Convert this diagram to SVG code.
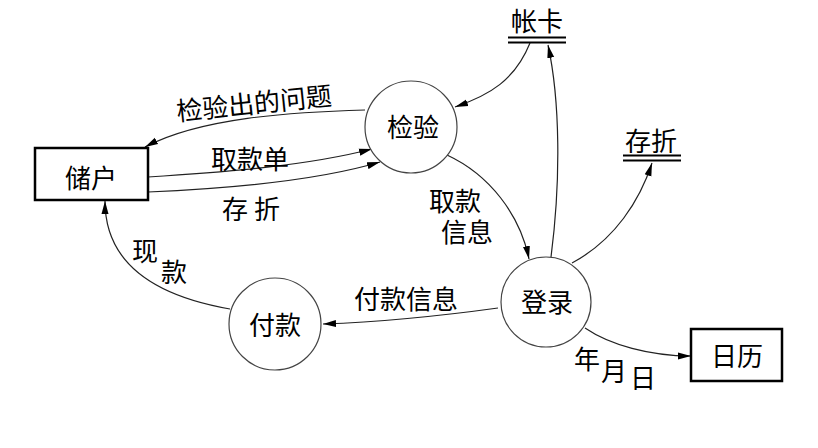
<svg xmlns="http://www.w3.org/2000/svg" width="818" height="448" viewBox="0 0 818 448">
<style>
text{font-family:"Noto Sans CJK SC","Noto Sans",sans-serif;font-size:26px;fill:#000;text-anchor:middle}
.proc{fill:#fff;stroke:#444;stroke-width:1.2}
.ent{fill:#fff;stroke:#000;stroke-width:2.5}
.store{stroke:#000;stroke-width:2}
.edge{fill:none;stroke:#222;stroke-width:1.2;marker-end:url(#ah)}
</style>
<defs>
<marker id="ah" markerUnits="userSpaceOnUse" markerWidth="14" markerHeight="8" refX="13" refY="4" orient="auto">
<path d="M0,0.5 L13,4 L0,7.5 z" fill="#000"/>
</marker>
</defs>
<rect width="818" height="448" fill="#fff"/>
<g id="connectors">
<path class="edge" d="M365,110 C290,112 200,118 145,147"/>
<path class="edge" d="M148,177 C230,172 310,165 372,149"/>
<path class="edge" d="M148,192 C240,188 320,180 380,162"/>
<path class="edge" d="M530,43 C515,80 490,95 455,107"/>
<path class="edge" d="M551,257 C561,180 560,100 548,45"/>
<path class="edge" d="M447,155 C490,175 520,215 529,259"/>
<path class="edge" d="M572,263 C615,240 640,200 652,163"/>
<path class="edge" d="M498,308 C440,316 380,322 323,324"/>
<path class="edge" d="M230,309 C150,295 105,260 105,201"/>
<path class="edge" d="M585,328 C610,345 650,356 691,356"/>
</g>
<g id="labels">
<text x="254" y="113" transform="rotate(-6 254 103)">检验出的问题</text>
<text x="250" y="169">取款单</text>
<text x="251" y="219">存 折</text>
<text><tspan x="455" y="211">取款</tspan><tspan x="467" y="242">信息</tspan></text>
<text x="406" y="309">付款信息</text>
<text x="145" y="261">现</text>
<text x="174" y="282">款</text>
<text x="587" y="369">年</text>
<text x="614" y="381">月</text>
<text x="643" y="388">日</text>
</g>
<g id="chuhu">
<rect class="ent" x="35" y="148" width="113" height="52"/>
<text x="91" y="188">储户</text>
</g>
<g id="jianyan">
<circle class="proc" cx="411" cy="127" r="46"/>
<text x="413" y="137">检验</text>
</g>
<g id="dengl">
<circle class="proc" cx="546" cy="302" r="45"/>
<text x="547" y="312">登录</text>
</g>
<g id="fukuan">
<circle class="proc" cx="275" cy="324" r="46"/>
<text x="275" y="335">付款</text>
</g>
<g id="rili">
<rect class="ent" x="691" y="329" width="91" height="52"/>
<text x="737" y="366">日历</text>
</g>
<g id="zhangka">
<text x="537" y="31">帐卡</text>
<line class="store" x1="508" y1="37.5" x2="566" y2="37.5"/>
<line class="store" x1="508" y1="42.5" x2="566" y2="42.5"/>
</g>
<g id="cunzhe">
<text x="651" y="151">存折</text>
<line class="store" x1="623" y1="155.5" x2="681" y2="155.5"/>
<line class="store" x1="623" y1="160.5" x2="681" y2="160.5"/>
</g>
</svg>
